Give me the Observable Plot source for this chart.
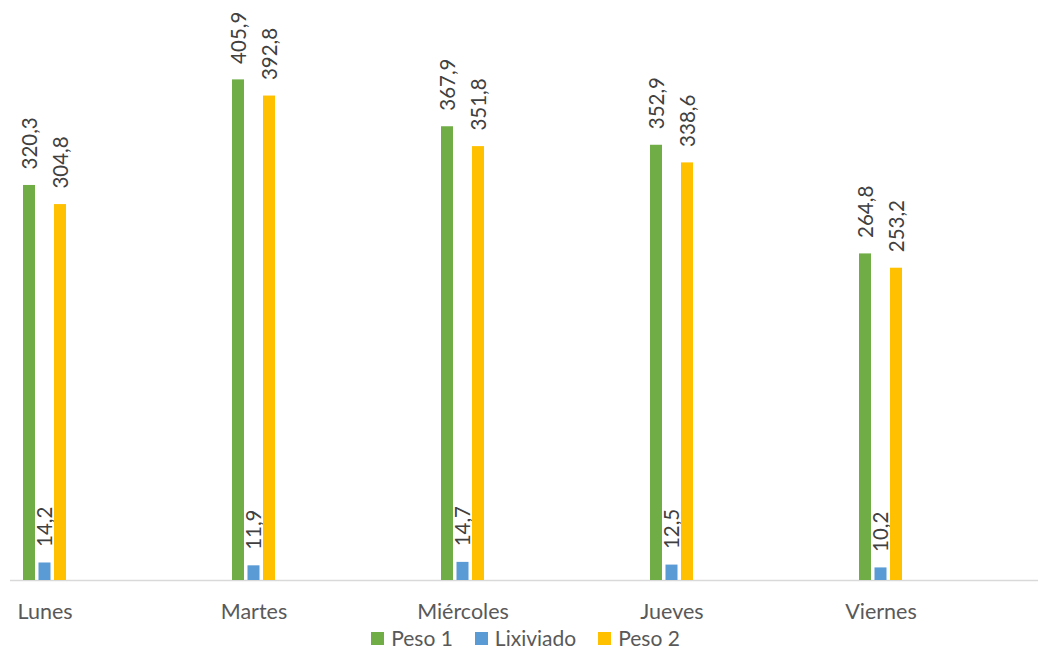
<!DOCTYPE html>
<html><head><meta charset="utf-8">
<script src="https://cdn.jsdelivr.net/npm/d3@7"></script>
<script src="https://cdn.jsdelivr.net/npm/@observablehq/plot@0.6"></script>
<style>
html,body{margin:0;background:#fff;font-family:Lato,"Open Sans",sans-serif;overflow:hidden;}
#legend{position:absolute;left:0;top:625px;width:1049px;display:flex;justify-content:center;align-items:center;height:26px;line-height:26px;font-size:21px;color:#595959;padding-left:2px;box-sizing:border-box;}
#legend .item{display:flex;align-items:center;margin:0 11px;}
#legend .sw{width:13px;height:13px;margin-right:7px;display:inline-block;}
#chart svg{display:block;}
</style></head><body>
<div id="chart"></div>
<div id="legend"></div>
<script>
const days = ["Lunes","Martes","Miércoles","Jueves","Viernes"];
const series = ["Peso 1","Lixiviado","Peso 2"];
const peso1 = [320.3,405.9,367.9,352.9,264.8];
const lixiviado = [14.2,11.9,14.7,12.5,10.2];
const peso2 = [304.8,392.8,351.8,338.6,253.2];
const colors = ["#70AD47","#5B9BD5","#FFC000"];

const values = [peso1, lixiviado, peso2];
const data = [];
series.forEach((s, i) => days.forEach((d, j) => data.push({day: d, series: s, value: values[i][j]})));

const step = 15.5, barW = 12, band = 209;
const inset = (band - barW) / 2;
const fmt = v => v.toFixed(1).replace(".", ",");

const marks = [Plot.ruleY([0], {stroke: "#d9d9d9", strokeWidth: 1.3})];
series.forEach((s, i) => {
  const rows = data.filter(r => r.series === s);
  marks.push(Plot.barY(rows, {x: "day", y: "value", fill: colors[i], dx: (i - 1) * step, insetLeft: inset, insetRight: inset}));
  marks.push(Plot.text(rows, {x: "day", y: "value", text: r => fmt(r.value), rotate: -90, textAnchor: "start", lineAnchor: "middle", dx: (i - 1) * step + 0.5, dy: -16, fill: "#404040", fontSize: 20.5}));
});

const chart = Plot.plot({
  width: 1049, height: 625,
  marginLeft: 10, marginRight: 11, marginTop: 0, marginBottom: 45,
  style: {fontFamily: "Lato, 'Open Sans', sans-serif", background: "#fff"},
  x: {type: "band", domain: days, range: [44.5 - band / 2, 880.5 + band / 2], padding: 0, label: null},
  y: {domain: [0, 450], range: [580, 25], axis: null},
  marks: [
    Plot.axisX({tickSize: 0, tickPadding: 23, fontSize: 21.5, fill: "#595959", label: null}),
    ...marks
  ]
});
document.getElementById("chart").appendChild(chart);

const lg = document.getElementById("legend");
series.forEach((s, i) => {
  const it = document.createElement("span"); it.className = "item";
  const sw = document.createElement("span"); sw.className = "sw"; sw.style.background = colors[i];
  it.appendChild(sw); it.appendChild(document.createTextNode(s));
  lg.appendChild(it);
});
</script>
</body></html>
